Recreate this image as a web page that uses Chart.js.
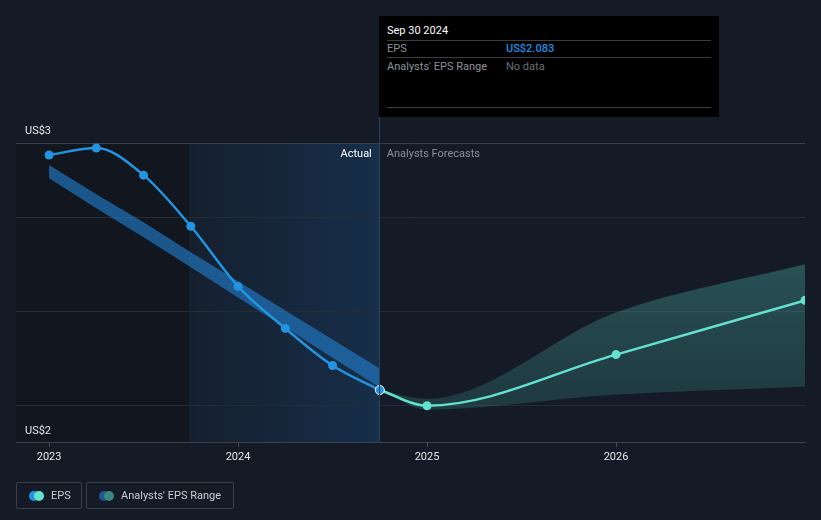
<!DOCTYPE html>
<html>
<head>
<meta charset="utf-8">
<script src="https://cdn.jsdelivr.net/npm/chart.js@4/dist/chart.umd.min.js"></script>
<style>
  html, body { margin:0; padding:0; background:#151b26; }
  #wrap { position:relative; width:821px; height:520px; overflow:hidden; font-family: Roboto, "Noto Sans", sans-serif; }
  canvas { position:absolute; left:0; top:0; }
  #tip { position:absolute; left:379px; top:16px; width:340px; height:101px; background:#000; }
  #tip .t { position:absolute; left:8px; top:8px; font-size:11px; color:#fff; }
  #tip .ln { position:absolute; left:8px; width:324px; height:1px; background:#3a3d42; }
  #tip .k { position:absolute; left:8px; font-size:11px; color:#8d9299; }
  #tip .v { position:absolute; left:127px; font-size:11px; }
  .leg { position:absolute; top:482px; height:27px; border:1px solid #3a3f48; border-radius:2px; box-sizing:border-box; font-size:11px; color:#c9ccd1; }
  .leg .d { position:absolute; top:8px; width:10px; height:10px; border-radius:50%; }
  .leg .lt { position:absolute; top:6px; }
</style>
</head>
<body>
<div id="wrap">
  <canvas id="c" width="821" height="520"></canvas>
  <div id="tip">
    <div class="t">Sep 30 2024</div>
    <div class="ln" style="top:24px"></div>
    <div class="k" style="top:26px">EPS</div>
    <div class="v" style="top:26px;color:#1f8fe0;font-weight:500">US$2.083</div>
    <div class="ln" style="top:41px"></div>
    <div class="k" style="top:44px">Analysts' EPS Range</div>
    <div class="v" style="top:44px;color:#6b7077">No data</div>
    <div class="ln" style="top:91px"></div>
  </div>
  <div class="leg" style="left:16px;width:66px">
    <div class="d" style="left:12px;background:#2394df"></div>
    <div class="d" style="left:17px;background:#63e2d0"></div>
    <div class="lt" style="left:34px">EPS</div>
  </div>
  <div class="leg" style="left:86px;width:148px">
    <div class="d" style="left:12px;background:#1d5a89"></div>
    <div class="d" style="left:17px;background:#3f8582"></div>
    <div class="lt" style="left:34px">Analysts' EPS Range</div>
  </div>
</div>
<script>
// ---- data ----
const actualDates = ['2022-12-31','2023-03-31','2023-06-30','2023-09-30','2023-12-31','2024-03-31','2024-06-30','2024-09-30'];
const actualEPS   = [3.33, 3.367, 3.223, 2.952, 2.633, 2.41, 2.213, 2.083];
const pastRangeHigh = [3.277, 3.122, 2.973, 2.814, 2.66, 2.505, 2.351, 2.197];
const pastRangeLow  = [3.207, 3.048, 2.894, 2.734, 2.574, 2.415, 2.255, 2.096];
const forecastDates = ['2024-09-30','2024-12-31','2025-12-31','2026-12-31'];
const forecastEPS   = [2.083, 2.0, 2.271, 2.559];
const forecastHigh  = [2.083, 2.037, 2.495, 2.75];
const forecastLow   = [2.083, 1.979, 2.059, 2.101];
const xTickYears = [2023, 2024, 2025, 2026];
const yTopLabel = 'US$3';
const yBottomLabel = 'US$2';
const Y_MIN = 1.8032, Y_MAX = 3.3936;
const X_MIN = 2022.825, X_MAX = 2027.0;

function toYear(s){
  const [y,m,d] = s.split('-').map(Number);
  return y + (m === 12 ? 1 : m/12);
}
function pts(dates, vals){ return dates.map((d,i)=>({x:toYear(d), y:vals[i]})); }

const bgPlugin = {
  id:'bg',
  beforeDraw(chart){
    const {ctx, chartArea:a, scales:{x}} = chart;
    const xs = x.getPixelForValue(toYear('2023-09-30')) - 2;
    const xe = x.getPixelForValue(toYear('2024-09-30'));
    ctx.save();
    ctx.fillStyle = '#12161e';
    ctx.fillRect(a.left, a.top, xs - a.left, a.bottom - a.top);
    const g = ctx.createLinearGradient(xs,0,xe,0);
    g.addColorStop(0,'rgba(30,110,190,0.06)');
    g.addColorStop(1,'rgba(30,120,205,0.22)');
    ctx.fillStyle = g;
    ctx.fillRect(xs, a.top, xe - xs, a.bottom - a.top);
    ctx.restore();
  },
  afterDatasetsDraw(chart){
    const {ctx, chartArea:a, scales:{x}} = chart;
    const xe = x.getPixelForValue(toYear('2024-09-30'));
    ctx.save();
    ctx.strokeStyle = '#27425c';
    ctx.lineWidth = 1;
    ctx.beginPath(); ctx.moveTo(Math.round(xe)-0.5, 117); ctx.lineTo(Math.round(xe)-0.5, a.bottom); ctx.stroke();
    ctx.font = '11px Roboto, "Noto Sans", sans-serif';
    ctx.textBaseline = 'middle';
    ctx.textAlign = 'right'; ctx.fillStyle = '#ffffff';
    ctx.fillText('Actual', xe - 8, 154);
    ctx.textAlign = 'left'; ctx.fillStyle = '#8a9099';
    ctx.fillText('Analysts Forecasts', xe + 7, 154);
    ctx.restore();
  }
};

function tealGrad(ctx){
  const ch = ctx.chart; const a = ch.chartArea;
  if(!a) return 'rgba(60,130,125,0.4)';
  const g = ch.ctx.createLinearGradient(0, a.top, 0, a.bottom);
  g.addColorStop(0.3,'rgba(62,140,135,0.55)');
  g.addColorStop(0.85,'rgba(50,110,110,0.38)');
  return g;
}

new Chart(document.getElementById('c'), {
  type:'line',
  data:{ datasets:[
    { label:'EPS', data:pts(actualDates, actualEPS), borderColor:'#2394df', backgroundColor:'#2394df',
      borderWidth:2.5, cubicInterpolationMode:'monotone', fill:false,
      pointRadius:4.5, pointHoverRadius:4.5,
      pointBorderColor: c => c.dataIndex === actualEPS.length-1 ? '#ffffff' : '#2394df',
      pointBorderWidth: c => c.dataIndex === actualEPS.length-1 ? 1 : 0 , order:0},
    { label:'EPS forecast', data:pts(forecastDates, forecastEPS), borderColor:'#63e2d0', backgroundColor:'#63e2d0',
      borderWidth:2.5, cubicInterpolationMode:'monotone', fill:false,
      pointRadius: c => c.dataIndex === 0 ? 0 : 4.5, pointBorderWidth:0, order:1},
    { label:'past high', data:pts(actualDates, pastRangeHigh), borderWidth:0, pointRadius:0,
      backgroundColor:'rgba(34,128,205,0.62)', fill:'+1', order:3 },
    { label:'past low', data:pts(actualDates, pastRangeLow), borderWidth:0, pointRadius:0, fill:false, order:4 },
    { label:'fc high', data:pts(forecastDates, forecastHigh), borderWidth:0, pointRadius:0,
      cubicInterpolationMode:'monotone', backgroundColor:tealGrad, fill:'+1', order:5 },
    { label:'fc low', data:pts(forecastDates, forecastLow), borderWidth:0, pointRadius:0,
      cubicInterpolationMode:'monotone', fill:false, order:6 }
  ]},
  options:{
    responsive:false, animation:false,
    layout:{ padding:{ left:16, right:16, top:143, bottom:52 } },
    plugins:{ legend:{display:false}, tooltip:{enabled:false} },
    scales:{
      x:{ type:'linear', min:X_MIN, max:X_MAX,
        afterBuildTicks: s => { s.ticks = xTickYears.map(v=>({value:v})); },
        ticks:{ color:'#e4e6ea', font:{size:11, family:'Roboto'}, padding:4, callback:v=>String(v) },
        grid:{ drawOnChartArea:false, drawTicks:true, tickLength:4, color:'#4a4f58' },
        border:{ color:'#3c414a', width:1 } },
      y:{ type:'linear', min:Y_MIN, max:Y_MAX,
        afterFit: s => { s.width = 0; },
        afterBuildTicks: s => { s.ticks = [Y_MIN, 2.0, 2.5, 3.0, Y_MAX].map(v=>({value:v})); },
        ticks:{ mirror:true, padding:9, labelOffset:-12, color:'#e4e6ea', font:{size:11, family:'Roboto'},
          callback:(v)=> v===Y_MAX ? yTopLabel : (v===Y_MIN ? yBottomLabel : '') },
        grid:{ drawTicks:false, color: c => c.tick && c.tick.value===Y_MAX ? '#3b4048' : (c.tick && c.tick.value===Y_MIN ? 'rgba(0,0,0,0)' : '#262c36') },
        border:{ display:false } }
    }
  },
  plugins:[bgPlugin]
});
</script>
</body>
</html>
